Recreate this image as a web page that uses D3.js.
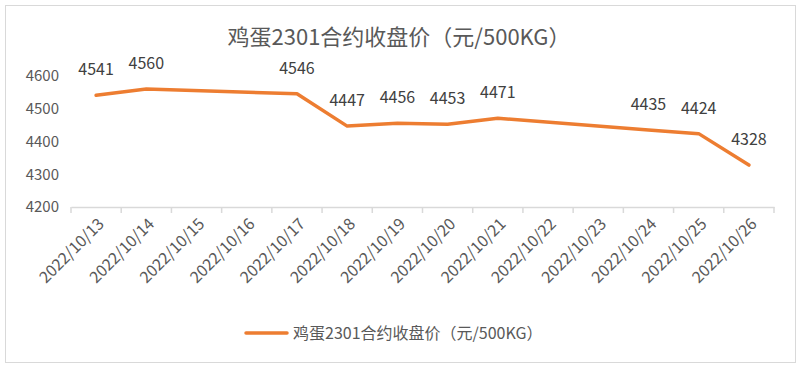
<!DOCTYPE html>
<html><head><meta charset="utf-8">
<script src="https://cdn.jsdelivr.net/npm/d3@7"></script>
<style>body{margin:0;background:#fff}svg{display:block}text{font-family:"Noto Sans CJK SC","Noto Sans",sans-serif}</style>
</head><body><svg id="c" width="804" height="369"></svg>
<script>
const title = "鸡蛋2301合约收盘价（元/500KG）";
const categories = ["2022/10/13","2022/10/14","2022/10/15","2022/10/16","2022/10/17","2022/10/18","2022/10/19","2022/10/20","2022/10/21","2022/10/22","2022/10/23","2022/10/24","2022/10/25","2022/10/26"];
const pointDates = ["2022/10/13","2022/10/14","2022/10/17","2022/10/18","2022/10/19","2022/10/20","2022/10/21","2022/10/24","2022/10/25","2022/10/26"];
const values = [4541,4560,4546,4447,4456,4453,4471,4435,4424,4328];
const yTicks = [4200,4300,4400,4500,4600];

const svg = d3.select("#c");
svg.append("rect").attr("x",5.5).attr("y",5.5).attr("width",790).attr("height",357)
  .attr("fill","#fff").attr("stroke","#d9d9d9");

svg.append("text").attr("x",399).attr("y",45).attr("text-anchor","middle")
  .attr("font-size",22).attr("fill","#595959").text(title);

const x = d3.scaleBand().domain(categories).range([71,774]);
const y = d3.scaleLinear().domain([4200,4600]).range([207,76]);

svg.append("g").selectAll("text").data(yTicks).join("text")
  .attr("x",59).attr("y",d=>y(d)).attr("dy","0.35em").attr("text-anchor","end")
  .attr("font-size",15).attr("fill","#595959").text(d=>d);

const xa = svg.append("g").attr("transform","translate(0,207)")
  .call(d3.axisBottom(x).tickSizeOuter(0).tickSize(0).tickFormat(""));
xa.select(".domain").attr("stroke","#d9d9d9").attr("stroke-width",1.5);
const edges = categories.map(c=>x(c)).concat([x.range()[1]]);
svg.append("g").selectAll("line").data(edges).join("line")
  .attr("x1",d=>d).attr("x2",d=>d).attr("y1",207).attr("y2",213)
  .attr("stroke","#d9d9d9").attr("stroke-width",1.5);
svg.append("g").selectAll("text").data(categories).join("text")
  .attr("transform",d=>`translate(${x(d)+x.bandwidth()/2+9},225) rotate(-45)`)
  .attr("text-anchor","end").attr("font-size",16).attr("fill","#595959").text(d=>d);

const cx = d=>x(d)+x.bandwidth()/2;
const pts = pointDates.map((d,i)=>({d,v:values[i]}));
svg.append("path").datum(pts)
  .attr("d",d3.line().x(p=>cx(p.d)).y(p=>y(p.v)))
  .attr("fill","none").attr("stroke","#ED7D31").attr("stroke-width",3.5)
  .attr("stroke-linejoin","round").attr("stroke-linecap","round");

svg.append("g").selectAll("text").data(pts).join("text")
  .attr("x",p=>cx(p.d)).attr("y",p=>y(p.v)-20).attr("text-anchor","middle")
  .attr("font-size",16).attr("fill","#404040").text(p=>p.v);

svg.append("line").attr("x1",246).attr("x2",287).attr("y1",333).attr("y2",333)
  .attr("stroke","#ED7D31").attr("stroke-width",3.5).attr("stroke-linecap","round");
svg.append("text").attr("x",293).attr("y",333).attr("dy","0.35em")
  .attr("font-size",16).attr("fill","#595959").text(title);
</script></body></html>
